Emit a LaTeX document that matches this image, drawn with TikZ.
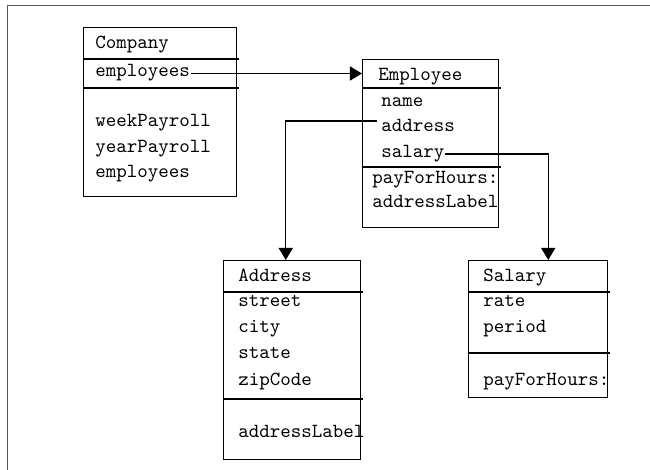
\documentclass[tikz,border=0pt]{standalone}
\usetikzlibrary{arrows.meta,calc}
\tikzset{
	classbox/.style={draw,line width=0.75pt,inner sep=0pt,anchor=north west},
	member/.style={anchor=west,inner sep=0pt,text height=6pt,text depth=1.8pt,
		font=\ttfamily\fontsize{10}{12}\selectfont},
	assoc/.style={line width=0.65pt,-{Triangle[length=6pt,width=7pt]}},
}

\begin{document}
\begin{tikzpicture}[x=0.5pt,y=-0.5pt]
	\useasboundingbox (0,0) rectangle (650,470);
	%FRAME
	\draw[line width=0.5pt,black!65] (650,6) -- (8,6) -- (8,470);

	%COMPANY
	\node[classbox,minimum width=76.5pt,minimum height=84.5pt] (company) at (83,27) {};
	\draw[line width=0.75pt] (83,59) -- (239,59) (83,88) -- (239,88);
	\node[member] (c-title) at (95,44) {Company};
	\node[member] (c-emp) at (95,72) {employees};
	\node[member] (c-week) at (95,122) {weekPayroll};
	\node[member] (c-year) at (95,148) {yearPayroll};
	\node[member] (c-list) at (95,173) {employees};

	%EMPLOYEE
	\node[classbox,minimum width=68pt,minimum height=84pt] (employee) at (362,59) {};
	\draw[line width=0.75pt] (362,88) -- (501,88) (362,167) -- (501,167);
	\node[member] (e-title) at (378,76) {Employee};
	\node[member] (e-name) at (381,102) {name};
	\node[member] (e-addr) at (381,127) {address};
	\node[member] (e-sal) at (381,153) {salary};
	\node[member] (e-pay) at (372,179) {payForHours:};
	\node[member] (e-label) at (372,203) {addressLabel};

	%ADDRESS
	\node[classbox,minimum width=68.5pt,minimum height=99.5pt] (address) at (223,260) {};
	\draw[line width=0.75pt] (223,292) -- (363,292) (223,399) -- (363,399);
	\node[member] (a-title) at (238,277) {Address};
	\node[member] (a-street) at (238,302) {street};
	\node[member] (a-city) at (238,328) {city};
	\node[member] (a-state) at (238,354) {state};
	\node[member] (a-zip) at (238,381) {zipCode};
	\node[member] (a-label) at (238,433) {addressLabel};

	%SALARY
	\node[classbox,minimum width=69.5pt,minimum height=68.5pt] (salary) at (468,260) {};
	\draw[line width=0.75pt] (468,292) -- (610,292) (468,353) -- (610,353);
	\node[member] (s-title) at (483,277) {Salary};
	\node[member] (s-rate) at (483,302) {rate};
	\node[member] (s-period) at (483,328) {period};
	\node[member] (s-pay) at (483,381) {payForHours:};

	%LINKS
	\draw[assoc] ($(c-emp.east)+(1,1.5)$) -- ($(c-emp.east -| employee.west)+(0,1.5)$);
	\draw[assoc] ($(e-addr.west)+(-4,-6)$) -| ($(address.north)+(-6.5,0)$);
	\draw[assoc] ($(e-sal.east)+(0,1)$) -| ($(salary.north)+(10,0)$);
\end{tikzpicture}
\end{document}
